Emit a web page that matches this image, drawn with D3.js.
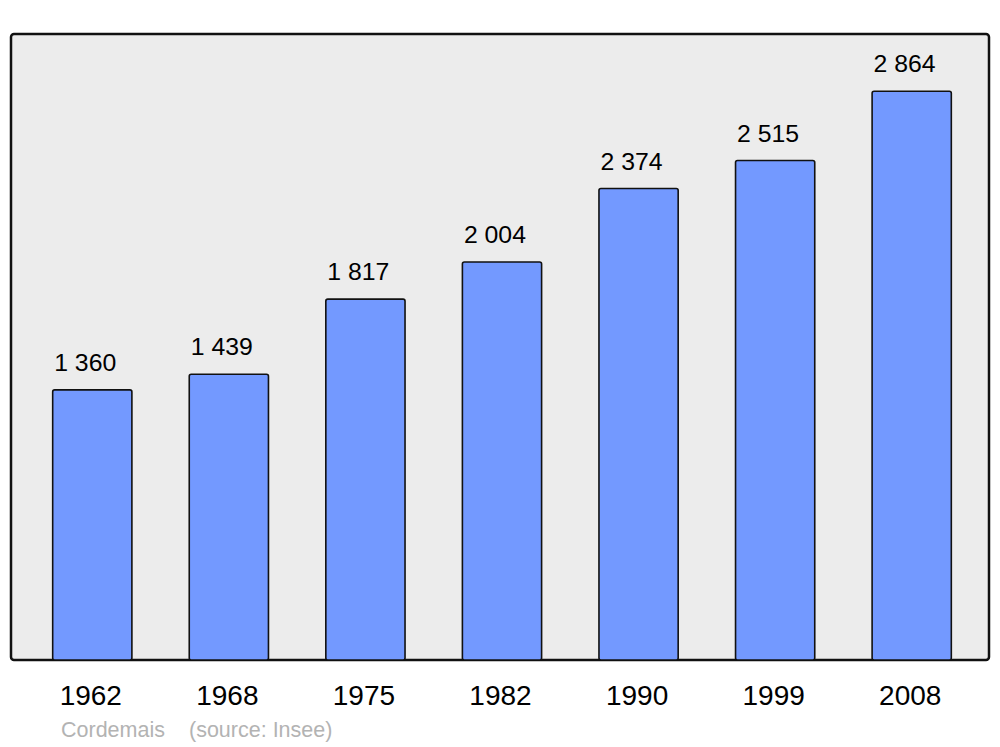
<!DOCTYPE html>
<html><head><meta charset="utf-8">
<script src="https://cdn.jsdelivr.net/npm/d3@7"></script>
<style>html,body{margin:0;padding:0;background:#fff;}svg{display:block;}</style>
</head><body>
<script>
const years = ["1962","1968","1975","1982","1990","1999","2008"];
const population = [1360,1439,1817,2004,2374,2515,2864];
const labels = ["1 360","1 439","1 817","2 004","2 374","2 515","2 864"];
const footerName = "Cordemais";
const footerSource = "(source: Insee)";

const W = 1000, H = 747;
const svg = d3.select("body").append("svg").attr("width", W).attr("height", H);
const font = "'Liberation Sans', Arial, sans-serif";

const panel = {x0: 11, x1: 989, y0: 34, y1: 660};
svg.append("rect").attr("x", panel.x0).attr("y", panel.y0)
  .attr("width", panel.x1 - panel.x0).attr("height", panel.y1 - panel.y0)
  .attr("rx", 3).attr("fill", "#ececec").attr("stroke", "#111").attr("stroke-width", 2.5);

const x = d3.scaleBand().domain(years).range([24, 980]).paddingInner(0.42).paddingOuter(0.21);
const y = d3.scaleLinear().domain([0, 3152]).range([panel.y1, panel.y0]);

const data = years.map((yr, i) => ({yr, v: population[i], l: labels[i]}));

svg.append("g").selectAll("rect").data(data).join("rect")
  .attr("x", d => x(d.yr)).attr("y", d => y(d.v))
  .attr("width", x.bandwidth()).attr("height", d => y(0) - y(d.v))
  .attr("rx", 2).attr("fill", "#7399ff").attr("stroke", "#111").attr("stroke-width", 1.6);

svg.append("g").selectAll("text").data(data).join("text")
  .attr("x", d => x(d.yr) + 1.5).attr("y", d => y(d.v) - 19)
  .attr("text-anchor", "start").attr("font-family", font).attr("font-size", 24.8)
  .attr("fill", "#000").text(d => d.l);

svg.append("g").selectAll("text").data(years).join("text")
  .attr("x", d => x(d) + x.bandwidth() / 2 - 1.5).attr("y", 705)
  .attr("text-anchor", "middle").attr("font-family", font).attr("font-size", 28)
  .attr("fill", "#000").text(d => d);

svg.append("text").attr("x", 61).attr("y", 736.5).attr("font-family", font).attr("font-size", 21.5)
  .attr("fill", "#b3b3b3").text(footerName);
svg.append("text").attr("x", 189).attr("y", 736.5).attr("font-family", font).attr("font-size", 21.5)
  .attr("fill", "#b3b3b3").text(footerSource);
</script>
</body></html>
